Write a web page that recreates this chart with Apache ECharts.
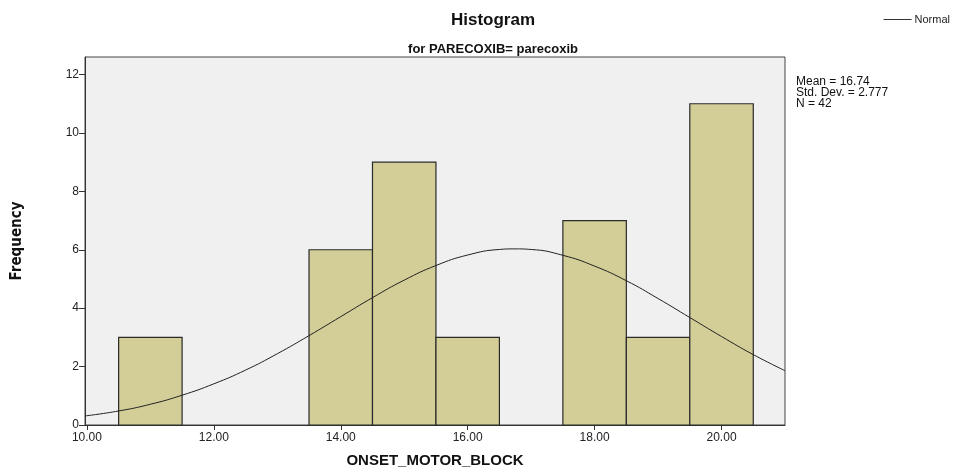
<!DOCTYPE html>
<html>
<head>
<meta charset="utf-8">
<script src="https://cdn.jsdelivr.net/npm/echarts@6/dist/echarts.min.js"></script>
<style>
  html, body { margin: 0; padding: 0; background: #fff; }
  #chart { width: 957px; height: 473px; }
</style>
</head>
<body>
<div id="chart"></div>
<script>
// histogram bins: [from, to, count]
const binStarts = [10.5, 13.5, 14.5, 15.5, 17.5, 18.5, 19.5];
const binEnds   = [11.5, 14.5, 15.5, 16.5, 18.5, 19.5, 20.5];
const binCounts = [3, 6, 9, 3, 7, 3, 11];

// normal curve
const curveX = [9.97, 10.5, 11, 11.5, 12, 12.5, 13, 13.5, 14, 14.5, 15, 15.5, 16, 16.5, 16.74,
                17, 17.5, 18, 18.5, 19, 19.5, 20, 20.5, 21];
const curveY = [0.31, 0.48, 0.71, 1.02, 1.41, 1.88, 2.44, 3.06, 3.71, 4.36, 4.96, 5.46, 5.82, 6.01, 6.03,
                6.01, 5.81, 5.44, 4.94, 4.33, 3.68, 3.03, 2.41, 1.86];

const xTicks = [10, 12, 14, 16, 18, 20];
const statsLines = ['Mean = 16.74', 'Std. Dev. = 2.777', 'N = 42'];

const barData = binStarts.map((s, i) => [s, binEnds[i], binCounts[i]]);
const curveData = curveX.map((x, i) => [x, curveY[i]]);

const chart = echarts.init(document.getElementById('chart'));
chart.setOption({
  animation: false,
  title: [
    { text: 'Histogram', left: 488, top: 7, textAlign: 'center',
      textStyle: { fontFamily: 'Liberation Sans', fontSize: 17, fontWeight: 'bold', color: '#111' } },
    { text: 'for PARECOXIB= parecoxib', left: 488, top: 38, textAlign: 'center',
      textStyle: { fontFamily: 'Liberation Sans', fontSize: 13, fontWeight: 'bold', color: '#111' } }
  ],
  legend: {
    right: 2, top: 9, icon: 'rect', itemWidth: 28, itemHeight: 1, itemGap: 3,
    data: ['Normal'],
    itemStyle: { color: '#333' },
    textStyle: { fontFamily: 'Liberation Sans', fontSize: 11, color: '#222', padding: [0, 0, 0, -2] }
  },
  graphic: [{
    type: 'text', left: 796, top: 76,
    style: { text: statsLines.join('\n'), fontFamily: 'Liberation Sans', fontSize: 12,
             lineHeight: 11, fill: '#111' }
  }],
  grid: {
    left: 85, right: 172, top: 57, bottom: 48,
    show: true, backgroundColor: '#F0F0F0', borderColor: '#444', borderWidth: 1
  },
  xAxis: {
    type: 'value', min: 9.97, max: 21.0,
    name: 'ONSET_MOTOR_BLOCK', nameLocation: 'middle', nameGap: 28,
    nameTextStyle: { fontFamily: 'Liberation Sans', fontSize: 15, fontWeight: 'bold', color: '#111' },
    axisLine: { lineStyle: { color: '#333' } },
    axisTick: { length: 5, lineStyle: { color: '#333' }, customValues: xTicks },
    axisLabel: { fontFamily: 'Liberation Sans', fontSize: 12, color: '#222', margin: 7,
                 customValues: xTicks,
                 formatter: v => v.toFixed(2) },
    splitLine: { show: false }
  },
  yAxis: {
    type: 'value', min: 0, max: 12.6, interval: 2,
    name: 'Frequency', nameLocation: 'middle', nameGap: 60, nameRotate: 90,
    nameTextStyle: { fontFamily: 'Liberation Sans Narrow, DejaVu Sans Condensed', fontSize: 15,
                     fontWeight: 'bold', color: '#111' },
    axisLine: { show: true, lineStyle: { color: '#333' } },
    axisTick: { show: true, length: 6, lineStyle: { color: '#333' } },
    axisLabel: { fontFamily: 'Liberation Sans', fontSize: 12, color: '#222', margin: 6,
                 showMaxLabel: false },
    splitLine: { show: false }
  },
  series: [
    {
      name: 'bins', type: 'custom', data: barData,
      renderItem: (params, api) => {
        const p0 = api.coord([api.value(0), api.value(2)]);
        const p1 = api.coord([api.value(1), 0]);
        return {
          type: 'rect',
          shape: { x: p0[0], y: p0[1], width: p1[0] - p0[0], height: p1[1] - p0[1] },
          style: { fill: '#D3CE97', stroke: '#2a2a2a', lineWidth: 1.2 }
        };
      },
      z: 2
    },
    {
      name: 'Normal', type: 'line', data: curveData, smooth: true, symbol: 'none',
      lineStyle: { color: '#222', width: 1 }, itemStyle: { color: '#222' }, z: 3
    }
  ]
});
</script>
</body>
</html>
